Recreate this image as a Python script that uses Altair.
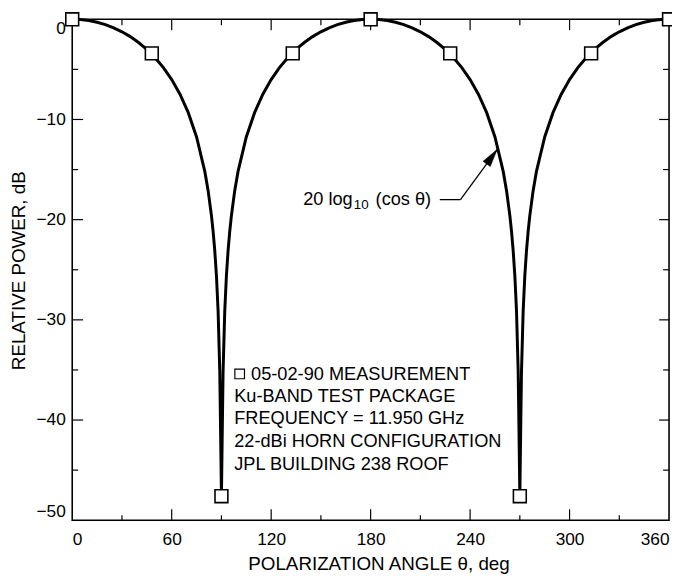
import altair as alt
import pandas as pd

# ---- data ----
curve_theta = [0, 5, 10, 15, 20, 25, 30, 35, 40, 45, 50, 55, 60, 65, 70, 75, 80, 82, 84, 85, 86, 87, 88, 89, 89.5, 90,
               90.5, 91, 92, 93, 94, 95, 96, 98, 100, 105, 110, 115, 120, 125, 130, 135, 140, 145, 150, 155, 160, 165, 170, 175, 180,
               185, 190, 195, 200, 205, 210, 215, 220, 225, 230, 235, 240, 245, 250, 255, 260, 262, 264, 265, 266, 267, 268, 269, 269.5, 270,
               270.5, 271, 272, 273, 274, 275, 276, 278, 280, 285, 290, 295, 300, 305, 310, 315, 320, 325, 330, 335, 340, 345, 350, 355, 360]
curve_db = [0, -0.03, -0.13, -0.30, -0.54, -0.86, -1.25, -1.73, -2.32, -3.01, -3.84, -4.83, -6.02, -7.48, -9.32, -11.74, -15.21, -17.13, -19.62, -21.19, -23.13, -25.62, -29.14, -35.16, -41.2, -47.6,
            -41.2, -35.16, -29.14, -25.62, -23.13, -21.19, -19.62, -17.13, -15.21, -11.74, -9.32, -7.48, -6.02, -4.83, -3.84, -3.01, -2.32, -1.73, -1.25, -0.86, -0.54, -0.30, -0.13, -0.03, 0,
            -0.03, -0.13, -0.30, -0.54, -0.86, -1.25, -1.73, -2.32, -3.01, -3.84, -4.83, -6.02, -7.48, -9.32, -11.74, -15.21, -17.13, -19.62, -21.19, -23.13, -25.62, -29.14, -35.16, -41.2, -47.6,
            -41.2, -35.16, -29.14, -25.62, -23.13, -21.19, -19.62, -17.13, -15.21, -11.74, -9.32, -7.48, -6.02, -4.83, -3.84, -3.01, -2.32, -1.73, -1.25, -0.86, -0.54, -0.30, -0.13, -0.03, 0]

meas_theta = [0, 48, 90, 133, 180, 228, 270, 313, 360]
meas_db = [0, -3.4, -47.6, -3.4, 0, -3.4, -47.6, -3.4, 0]

x_label_values = [0, 60, 120, 180, 240, 300, 360]
y_label_values = [0, -10, -20, -30, -40, -50]
x_major = [60, 120, 180, 240, 300]
x_minor = [30, 90, 150, 210, 270, 330]
y_major = [-10, -20, -30, -40]
y_minor = [-5, -15, -25, -35, -45]

legend_lines = ["05-02-90 MEASUREMENT", "Ku-BAND TEST PACKAGE", "FREQUENCY = 11.950 GHz",
                "22-dBi HORN CONFIGURATION", "JPL BUILDING 238 ROOF"]
legend_x = [107.9, 97.7, 97.7, 97.7, 97.7]
legend_y = [-35.4, -37.6, -39.8, -42.1, -44.4]

W, H = 604, 507
FONT = "Liberation Sans"

xs = alt.Scale(domain=[0, 360], nice=False, zero=False)
ys = alt.Scale(domain=[-50, 0], nice=False, zero=False)

curve_df = pd.DataFrame({"theta": curve_theta, "db": curve_db})
meas_df = pd.DataFrame({"theta": meas_theta, "db": meas_db})

x_axis = alt.Axis(values=x_label_values, ticks=False, domain=False, grid=False,
                  labelFont=FONT, labelFontSize=17.5, labelColor="black", labelPadding=11,
                  labelFlush=True, title="POLARIZATION ANGLE θ, deg", titleFont=FONT,
                  titleFontSize=19, titleFontWeight="normal", titleColor="black",
                  titleX=310, titleY=44, titleAlign="center", titleBaseline="middle")
y_axis = alt.Axis(values=y_label_values, ticks=False, domain=False, grid=False,
                  labelFont=FONT, labelFontSize=17.5, labelColor="black", labelPadding=7,
                  labelFlush=True, title="RELATIVE POWER, dB", titleFont=FONT,
                  titleFontSize=19, titleFontWeight="normal", titleColor="black",
                  titleX=-54, titleY=254, titleAngle=270, titleAlign="center", titleBaseline="middle")

curve = alt.Chart(curve_df).mark_line(color="black", strokeWidth=3).encode(
    x=alt.X("theta:Q", scale=xs, axis=x_axis),
    y=alt.Y("db:Q", scale=ys, axis=y_axis),
    order="theta:Q",
)

points = alt.Chart(meas_df).mark_point(shape="square", filled=True, fill="white",
                                        stroke="black", strokeWidth=1.6, size=169, opacity=1).encode(
    x=alt.X("theta:Q", scale=xs), y=alt.Y("db:Q", scale=ys))


def xticks(vals, y0, y1):
    return alt.Chart(pd.DataFrame({"v": vals})).mark_rule(color="black", strokeWidth=1.2).encode(
        x=alt.X("v:Q", scale=xs), y=alt.value(y0), y2=alt.value(y1))


def yticks(vals, x0, x1):
    return alt.Chart(pd.DataFrame({"v": vals})).mark_rule(color="black", strokeWidth=1.2).encode(
        y=alt.Y("v:Q", scale=ys), x=alt.value(x0), x2=alt.value(x1))


ticks = [
    xticks(x_major, H, H - 11), xticks(x_minor, H, H - 5),
    xticks(x_major, 0, 11), xticks(x_minor, 0, 6),
    yticks(y_major, 0, 11), yticks(y_minor, 0, 6),
    yticks(y_major, W, W - 10), yticks(y_minor, W, W - 6),
]

leg_df = pd.DataFrame({"x": legend_x, "y": legend_y, "t": legend_lines})
legend_text = alt.Chart(leg_df).mark_text(align="left", baseline="middle", font=FONT,
                                          fontSize=18.4, color="black").encode(
    x=alt.X("x:Q", scale=xs), y=alt.Y("y:Q", scale=ys), text="t:N")
legend_sq = alt.Chart(pd.DataFrame({"x": [101.0], "y": [-35.4]})).mark_point(
    shape="square", filled=True, fill="white", stroke="black", strokeWidth=1.2, size=95, opacity=1).encode(
    x=alt.X("x:Q", scale=xs), y=alt.Y("y:Q", scale=ys))

# annotation "20 log10 (cos θ)"
ann_r = alt.Chart(pd.DataFrame({"x": [169.2], "y": [-17.9], "t": ["20 log"]})).mark_text(
    align="right", baseline="middle", font=FONT, fontSize=18.4, color="black").encode(
    x=alt.X("x:Q", scale=xs), y=alt.Y("y:Q", scale=ys), text="t:N")
ann_l = alt.Chart(pd.DataFrame({"x": [183.0], "y": [-17.9], "t": ["(cos θ)"]})).mark_text(
    align="left", baseline="middle", font=FONT, fontSize=18.4, color="black").encode(
    x=alt.X("x:Q", scale=xs), y=alt.Y("y:Q", scale=ys), text="t:N")
ann_sub = alt.Chart(pd.DataFrame({"x": [169.8], "y": [-17.9], "t": ["10"]})).mark_text(
    align="left", baseline="middle", font=FONT, fontSize=13.5, dy=6, color="black").encode(
    x=alt.X("x:Q", scale=xs), y=alt.Y("y:Q", scale=ys), text="t:N")

leader_df = pd.DataFrame({"x": [221.7, 234.2], "y": [-18.0, -18.0], "x2": [234.2, 256.3], "y2": [-18.0, -13.0]})
leader = alt.Chart(leader_df).mark_rule(color="black", strokeWidth=1.3).encode(
    x=alt.X("x:Q", scale=xs), y=alt.Y("y:Q", scale=ys), x2="x2:Q", y2="y2:Q")
arrow = alt.Chart(pd.DataFrame({"x": [256.3], "y": [-13.0]})).mark_point(
    shape="M0,0 L0.25,1 L-0.25,1 Z", filled=True, fill="black", stroke="black", strokeWidth=0.5,
    size=1296, angle=36, opacity=1).encode(
    x=alt.X("x:Q", scale=xs), y=alt.Y("y:Q", scale=ys))

chart = alt.layer(curve, *ticks, legend_sq, legend_text, ann_r, ann_l, ann_sub,
                  leader, arrow, points).properties(
    width=W, height=H,
    autosize=alt.AutoSizeParams(type="none"),
    padding={"left": 65, "top": 8, "right": 3, "bottom": 52},
    background="white",
).configure_view(stroke="black", strokeWidth=1.6)

chart.save("out.html", embed_options={"renderer": "svg", "actions": False})
